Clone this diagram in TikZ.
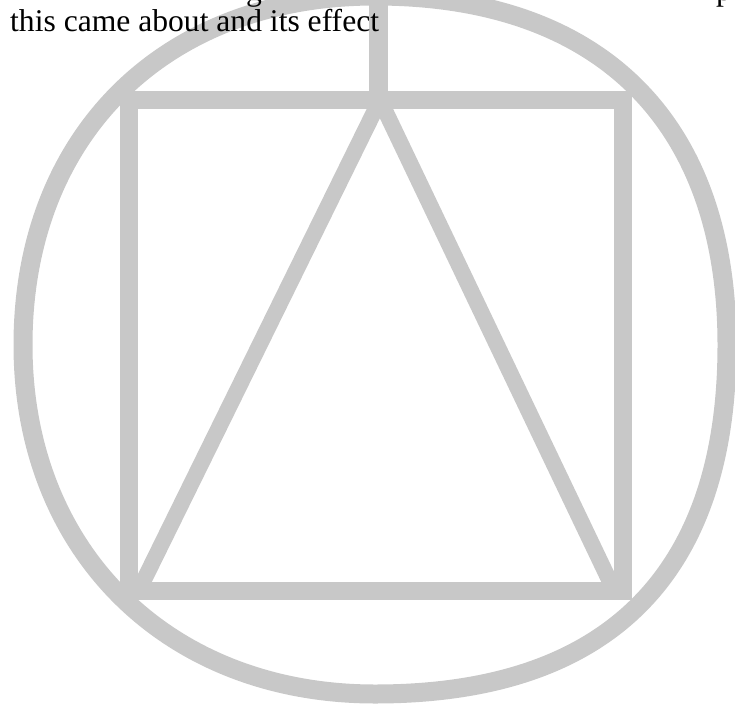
\documentclass[tikz,border=0pt]{standalone}
\usepackage{fontspec}
\setmainfont{Liberation Serif}
\usetikzlibrary{calc}
\definecolor{LightGray}{RGB}{200,200,200}

\begin{document}
\begin{tikzpicture}[x=1pt, y=-1pt,
    figline/.style={LightGray, line width=#1},
    caption/.style={anchor=base west, inner sep=0pt, font=\fontsize{31.6}{38}\selectfont}]
  \useasboundingbox (0,0) rectangle (735,706);
  \coordinate (E) at (727,345);
  \coordinate (S) at (375,694);
  \coordinate (W) at (23,345);
  \coordinate (N) at (375,-4);
  % square corners
  \coordinate (A) at (129,100);
  \coordinate (B) at (623,100);
  \coordinate (C) at (623,591);
  \coordinate (D) at (129,591);
  % apex and feet of the triangle
  \coordinate (T) at (380,100);
  \coordinate (L) at (140,588);
  \coordinate (R) at (613,588);
  % outer ring, a squarish circle
  \draw[figline=19pt]
    (E) .. controls (727,121.6) and (600.3,-4) .. (N)
        .. controls (163.8,-4) and (23,135.6) .. (W)
        .. controls (23,550.9) and (167.3,694) .. (S)
        .. controls (607.3,694) and (727,575.3) .. (E) -- cycle;
  % square
  \draw[figline=18pt] (A) -- (B) -- (C) -- (D) -- cycle;
  % stem on top
  \draw[figline=19pt] (378,-12) -- (378,100);
  % triangle legs
  \draw[figline=16pt] (T) -- (L);
  \draw[figline=16pt] (T) -- (R);
  % text
  \node[caption] (frag1) at (246,1) {g};
  \node[caption] (frag2) at (716,1) {p};
  \node[caption] (line2) at (10,32) {this came about and its effect};
\end{tikzpicture}
\end{document}
